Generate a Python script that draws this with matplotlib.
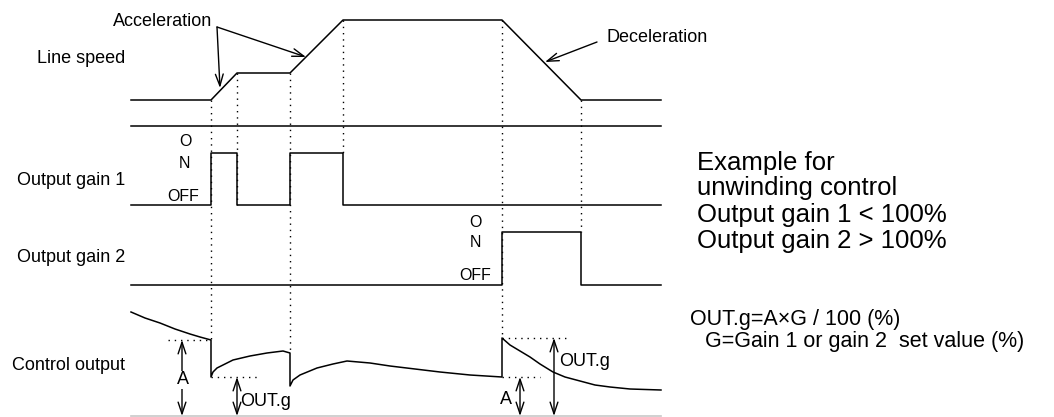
import matplotlib.pyplot as plt

plt.rcParams['font.family'] = ['Liberation Sans', 'DejaVu Sans']

# timing diagram drawn in picture units (x = time, y = down the page)
speed_t = [131, 211, 237, 290, 343, 502, 581, 661]
speed_y = [100, 100, 73, 73, 20, 20, 100, 100]

gain1_t = [131, 211, 211, 237, 237, 290, 290, 343, 343, 661]
gain1_y = [205, 205, 153, 153, 205, 205, 153, 153, 205, 205]

gain2_t = [131, 502, 502, 581, 581, 661]
gain2_y = [285, 285, 232, 232, 285, 285]

ctrl_t = [131, 145, 160, 175, 190, 200, 211,
          211, 213, 217, 225, 233, 250, 267, 283, 290,
          290, 293, 300, 317, 333, 347, 370, 390, 415, 440, 470, 502,
          502, 510, 520, 530, 540, 553, 565, 580, 595, 610, 630, 661]
ctrl_y = [312, 318, 323, 329, 334, 337, 340,
          377, 372, 368, 364, 360, 356, 353, 351, 353,
          386, 380, 375, 368, 364, 361, 363, 366, 369, 372, 375, 377,
          338, 345, 351, 357, 364, 372, 377, 381, 385, 387, 389, 390]

# dotted guide lines
guide_x = [211, 237, 290, 343, 502, 581]
guide_top = [100, 73, 73, 20, 20, 100]
guide_bot = [340, 205, 353, 153, 338, 232]

level_x0 = [168, 211, 502, 502]
level_x1 = [211, 260, 540, 568]
level_y = [340, 377, 377, 338]

# dimension arrows
dim_x = [182, 237, 520, 554]
dim_top = [340, 377, 377, 338]
dim_label = ['A', 'OUT.g', 'A', 'OUT.g']
dim_lx = [183, 240, 512, 559]
dim_ly = [380, 401, 400, 362]
dim_ha = ['center', 'left', 'right', 'left']

row_labels = ['Line speed', 'Output gain 1', 'Output gain 2', 'Control output']
row_y = [58, 180, 258, 366]

fig = plt.figure(figsize=(10.54, 4.17), dpi=100)
ax = fig.add_axes([0, 0, 1, 1])
ax.set_xlim(0, 1054)
ax.set_ylim(417, 0)
ax.axis('off')

lw = 1.1
ax.plot(speed_t, speed_y, color='black', lw=lw)
ax.plot([131, 661], [126, 126], color='black', lw=lw)
ax.plot(gain1_t, gain1_y, color='black', lw=lw)
ax.plot(gain2_t, gain2_y, color='black', lw=lw)
ax.plot(ctrl_t, ctrl_y, color='black', lw=lw)
ax.plot([131, 661], [416.3, 416.3], color='#c8c8c8', lw=1.2)

dots = (0, (1, 3.5))
for x, y0, y1 in zip(guide_x, guide_top, guide_bot):
    ax.plot([x, x], [y0, y1], color='black', lw=1.0, ls=dots)
for x0, x1, y in zip(level_x0, level_x1, level_y):
    ax.plot([x0, x1], [y, y], color='black', lw=1.0, ls=dots)

for x, top, lab, lx, ly, ha in zip(dim_x, dim_top, dim_label, dim_lx, dim_ly, dim_ha):
    ax.annotate('', xy=(x, 416), xytext=(x, top),
                arrowprops=dict(arrowstyle='<->,head_length=0.6,head_width=0.2',
                                mutation_scale=14, lw=1.0, color='black',
                                shrinkA=0, shrinkB=0))
    bg = dict(facecolor='white', edgecolor='none', pad=0.5) if ha == 'center' else None
    ax.text(lx, ly, lab, fontsize=13, ha=ha, va='center', bbox=bg)

for lab, y in zip(row_labels, row_y):
    ax.text(125, y, lab, fontsize=13, ha='right', va='center')

# ON / OFF marks
for x, y, s in [(185, 142, 'O'), (184, 163, 'N'), (183, 196, 'OFF'),
                (475, 222, 'O'), (475, 242, 'N'), (475, 275, 'OFF')]:
    ax.text(x, y, s, fontsize=11.5, ha='center', va='center')

# acceleration / deceleration callouts
ax.text(113, 21, 'Acceleration', fontsize=13, ha='left', va='center')
for tip in [(220, 88), (306, 57)]:
    ax.annotate('', xy=tip, xytext=(217, 27),
                arrowprops=dict(arrowstyle='->,head_length=0.6,head_width=0.2',
                                mutation_scale=14, lw=1.0, color='black',
                                shrinkA=0, shrinkB=0))
ax.text(607, 37, 'Deceleration', fontsize=13, ha='left', va='center')
ax.annotate('', xy=(545, 62), xytext=(597, 42),
            arrowprops=dict(arrowstyle='->,head_length=0.6,head_width=0.2',
                            mutation_scale=14, lw=1.0, color='black',
                            shrinkA=0, shrinkB=0))

# notes on the right
for y, s in zip([163, 188, 215, 241],
                ['Example for', 'unwinding control',
                 'Output gain 1 < 100%', 'Output gain 2 > 100%']):
    ax.text(697, y, s, fontsize=18.5, ha='left', va='center')

ax.text(690, 320, 'OUT.g=A\u00d7G / 100 (%)', fontsize=15.5, ha='left', va='center')
ax.text(705, 341, 'G=Gain 1 or gain 2  set value (%)', fontsize=15.5, ha='left', va='center')

fig.savefig('out.png', dpi=100)
